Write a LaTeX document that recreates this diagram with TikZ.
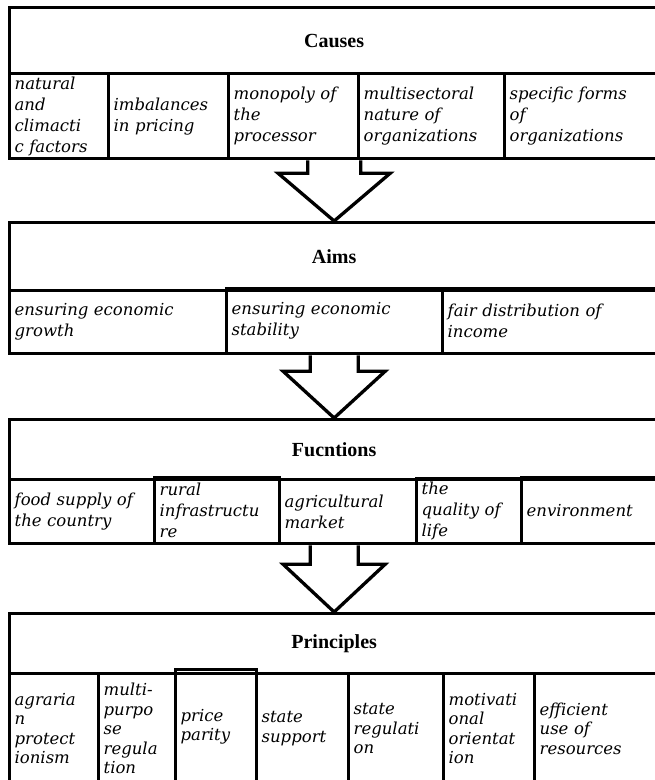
\documentclass[tikz,border=0pt]{standalone}
\usepackage{fontspec}
\setmainfont{Liberation Serif}
\newfontfamily\cellfont{DejaVu Serif}
\usetikzlibrary{calc,positioning}

\begin{document}
\begin{tikzpicture}[x=1pt,y=-1pt,
    head/.style={draw,line width=3.3pt,anchor=north west,minimum width=649pt,
      font=\bfseries\fontsize{20}{22}\selectfont},
    cell/.style={draw,line width=3.3pt,anchor=north west,inner xsep=5pt,inner ysep=0pt,
      align=left,font=\cellfont\itshape\fontsize{16.5}{21}\selectfont},
    tightcell/.style={cell,font=\cellfont\itshape\fontsize{16.5}{19.5}\selectfont},
    arrowline/.style={line width=3.3pt,line join=miter}
  ]
  \useasboundingbox (0,0) rectangle (655,780);
  \clip (0,0) rectangle (655,780);

  \node[head,minimum height=66pt] (causes) at (8,6) {Causes};
  \foreach \n/\xa/\xb/\ya/\txt in {1/8/107/72/{natural\\and\\climacti\\c factors},
      2/107/227/72/{imbalances\\in pricing},3/227/357/72/{monopoly of\\the\\processor},
      4/357/503/72/{multisectoral\\nature of\\organizations},
      5/503/657/72/{specific forms\\of\\organizations}} {
    \pgfmathsetmacro\w{\xb-\xa}
    \pgfmathsetmacro\tw{\xb-\xa-10}
    \pgfmathsetmacro\h{157-\ya}
    \node[cell,minimum width=\w pt,text width=\tw pt,minimum height=\h pt] (cause-\n) at (\xa,\ya) {\txt};
  }

  \node[head,minimum height=68pt] (aims) at (8,221) {Aims};
  \foreach \n/\xa/\xb/\ya/\txt in {1/8/225/289/{ensuring economic\\growth},
      2/225/441/287/{ensuring economic\\stability},3/441/657/287/{fair distribution of\\income}} {
    \pgfmathsetmacro\w{\xb-\xa}
    \pgfmathsetmacro\tw{\xb-\xa-10}
    \pgfmathsetmacro\h{352-\ya}
    \node[cell,minimum width=\w pt,text width=\tw pt,minimum height=\h pt] (aim-\n) at (\xa,\ya) {\txt};
  }

  \node[head,minimum height=60pt] (functions) at (8,418) {Fucntions};
  \foreach \n/\xa/\xb/\ya/\txt in {1/8/153/478/{food supply of\\the country},
      2/153/278/476/{rural\\infrastructu\\re},3/278/415/478/{agricultural\\market},
      4/415/520/477/{the\\quality of\\life},5/520/657/476/{environment}} {
    \pgfmathsetmacro\w{\xb-\xa}
    \pgfmathsetmacro\tw{\xb-\xa-10}
    \pgfmathsetmacro\h{542-\ya}
    \node[cell,minimum width=\w pt,text width=\tw pt,minimum height=\h pt] (func-\n) at (\xa,\ya) {\txt};
  }

  \node[head,minimum height=60pt] (principles) at (8,612) {Principles};
  \foreach \n/\xa/\xb/\ya/\txt in {1/8/97/672/{agraria\\n\\protect\\ionism},
      2/97/174/672/{multi-\\purpo\\se\\regula\\tion},3/174/255/668/{price\\parity},
      4/255/347/672/{state\\support},5/347/442/672/{state\\regulati\\on},
      6/442/533/672/{motivati\\onal\\orientat\\ion},7/533/657/672/{efficient\\use of\\resources}} {
    \pgfmathsetmacro\w{\xb-\xa}
    \pgfmathsetmacro\tw{\xb-\xa-10}
    \pgfmathsetmacro\h{782-\ya}
    \node[tightcell,minimum width=\w pt,text width=\tw pt,minimum height=\h pt] (prin-\n) at (\xa,\ya) {\txt};
  }

  \foreach \a/\b/\s/\hh/\l in {cause-1/aims/26.5/56/13,aim-1/functions/24/51/16,func-1/principles/24/51/19} {
    \draw[arrowline] let \p1=(\b.north), \p2=(\a.south) in
      (\x1-\s pt,\y2) -- (\x1-\s pt,\y2-\l pt) -- (\x1-\hh pt,\y2-\l pt) -- (\p1)
      -- (\x1+\hh pt,\y2-\l pt) -- (\x1+\s pt,\y2-\l pt) -- (\x1+\s pt,\y2);
  }
\end{tikzpicture}
\end{document}
